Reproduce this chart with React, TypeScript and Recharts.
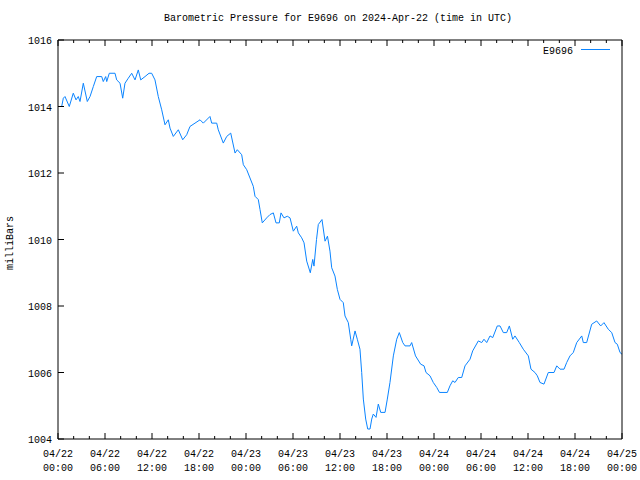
import React from 'react';
import { LineChart, Line, XAxis, YAxis, Legend } from 'recharts';

const title = 'Barometric Pressure for E9696 on 2024-Apr-22 (time in UTC)';
const seriesName = 'E9696';
const yLabel = 'milliBars';

const dateLabels = ['04/22', '04/22', '04/22', '04/22', '04/23', '04/23', '04/23', '04/23', '04/24', '04/24', '04/24', '04/24', '04/25'];
const timeLabels = ['00:00', '06:00', '12:00', '18:00', '00:00', '06:00', '12:00', '18:00', '00:00', '06:00', '12:00', '18:00', '00:00'];
const yTicks = [1004, 1006, 1008, 1010, 1012, 1014, 1016];
const xTicks = [0, 2, 4, 6, 8, 10, 12, 14, 16, 18, 20, 22, 24, 26, 28, 30, 32, 34, 36, 38, 40, 42, 44, 46, 48, 50, 52, 54, 56, 58, 60, 62, 64, 66, 68, 70, 72];

// hours since 04/22 00:00 UTC
const hours = [
  0, 0.47, 0.68, 0.89, 1.44, 1.95, 2.3, 2.59, 2.81, 3.23, 3.74, 4.09, 4.51, 4.94, 5.58, 5.78, 6.09, 6.22, 6.55, 7.28,
  7.49, 7.92, 8.26, 8.55, 8.97, 9.41, 9.83, 10.25, 10.56, 11.11, 11.62, 11.96, 12.38, 12.8, 13.24, 13.66, 14.08, 14.3, 14.72, 15.36,
  15.92, 16.43, 16.85, 17.49, 18.13, 18.55, 19.4, 19.62, 20.26, 20.46, 21.1, 21.54, 22.05, 22.6, 22.89, 23.45, 23.66, 24.09, 24.51, 24.93,
  25.15, 25.57, 25.79, 26.08, 26.64, 27.06, 27.49, 27.83, 28.25, 28.47, 28.85, 29.27, 29.62, 30.04, 30.47, 30.68, 31.11, 31.41, 31.75, 32.21,
  32.52, 32.68, 33.0, 33.23, 33.7, 34.09, 34.4, 34.72, 34.94, 35.36, 35.66, 36.0, 36.42, 36.64, 37.06, 37.37, 37.49, 37.92, 38.21, 38.55,
  38.77, 38.98, 39.28, 39.54, 39.83, 40.05, 40.25, 40.6, 40.89, 41.2, 41.75, 42.04, 42.38, 42.81, 43.24, 43.57, 44.01, 44.3, 44.94, 45.15,
  45.64, 46.3, 46.73, 46.98, 47.49, 47.91, 48.35, 48.7, 49.7, 50.04, 50.39, 50.68, 51.1, 51.54, 51.96, 52.6, 52.94, 53.66, 54.09, 54.38,
  54.73, 55.15, 55.5, 56.08, 56.43, 56.85, 57.28, 57.62, 58.05, 58.34, 58.89, 59.4, 60.04, 60.38, 60.89, 61.19, 61.53, 62.04, 62.59, 63.32,
  63.67, 64.09, 64.6, 64.94, 65.36, 65.78, 66.22, 66.86, 67.06, 67.49, 68.13, 68.77, 69.28, 69.7, 70.25, 70.69, 71.11, 71.4, 71.75, 72.0,
];

const pressure = [
  1014.0, 1014.0, 1014.25, 1014.3, 1014.0, 1014.4, 1014.2, 1014.3, 1014.15, 1014.7, 1014.15, 1014.3, 1014.6, 1014.9, 1014.9, 1014.75, 1014.9, 1014.75, 1015.0, 1015.0,
  1014.8, 1014.7, 1014.25, 1014.7, 1014.85, 1015.0, 1014.8, 1015.1, 1014.8, 1014.9, 1015.0, 1015.0, 1014.8, 1014.3, 1013.9, 1013.45, 1013.6, 1013.35, 1013.1, 1013.3,
  1013.0, 1013.15, 1013.4, 1013.5, 1013.6, 1013.5, 1013.7, 1013.5, 1013.5, 1013.3, 1012.9, 1013.1, 1013.2, 1012.6, 1012.7, 1012.55, 1012.25, 1012.1, 1011.85, 1011.6,
  1011.3, 1011.2, 1010.9, 1010.5, 1010.65, 1010.75, 1010.8, 1010.5, 1010.5, 1010.8, 1010.65, 1010.7, 1010.65, 1010.25, 1010.4, 1010.2, 1010.05, 1009.9, 1009.35, 1009.0,
  1009.4, 1009.2, 1010.0, 1010.45, 1010.6, 1009.95, 1010.1, 1009.65, 1009.15, 1008.9, 1008.5, 1008.2, 1008.1, 1007.7, 1007.5, 1007.0, 1006.8, 1007.25, 1007.0, 1006.7,
  1006.0, 1005.2, 1004.6, 1004.3, 1004.3, 1004.6, 1004.75, 1004.65, 1005.05, 1004.8, 1004.8, 1005.2, 1005.7, 1006.5, 1007.0, 1007.2, 1006.9, 1006.8, 1006.8, 1006.9,
  1006.5, 1006.25, 1006.2, 1006.0, 1005.9, 1005.7, 1005.55, 1005.4, 1005.4, 1005.6, 1005.75, 1005.7, 1005.85, 1005.85, 1006.2, 1006.4, 1006.65, 1006.95, 1006.9, 1007.0,
  1006.9, 1007.1, 1007.05, 1007.4, 1007.4, 1007.2, 1007.2, 1007.4, 1007.0, 1007.1, 1006.9, 1006.7, 1006.5, 1006.1, 1006.0, 1005.9, 1005.7, 1005.65, 1006.0, 1006.0,
  1006.2, 1006.1, 1006.1, 1006.3, 1006.5, 1006.6, 1006.9, 1007.1, 1006.9, 1006.9, 1007.45, 1007.55, 1007.4, 1007.5, 1007.3, 1007.2, 1006.9, 1006.85, 1006.6, 1006.55,
];

const data = hours.map((h, i) => ({ h, p: pressure[i] }));

const FONT = '"Liberation Mono", "DejaVu Sans Mono", monospace';
const LINE_COLOR = '#0a84ff';

const BottomTick = (props: any) => {
  const { x, y, payload } = props;
  const v = payload.value as number;
  const major = v % 6 === 0;
  const idx = v / 6;
  return (
    <g>
      <line x1={x} x2={x} y1={y} y2={y - (major ? 6 : 3)} stroke="#000" strokeWidth={1} />
      {major && (
        <text x={x} y={y + 18} textAnchor="middle" fontFamily={FONT} fontSize={10} fill="#000">
          {dateLabels[idx]}
        </text>
      )}
      {major && (
        <text x={x} y={y + 32} textAnchor="middle" fontFamily={FONT} fontSize={10} fill="#000">
          {timeLabels[idx]}
        </text>
      )}
    </g>
  );
};

const TopTick = (props: any) => {
  const { x, y, payload } = props;
  const v = payload.value as number;
  const major = v % 6 === 0;
  return <line x1={x} x2={x} y1={y} y2={y + (major ? 6 : 3)} stroke="#000" strokeWidth={1} />;
};

const LeftTick = (props: any) => {
  const { x, y, payload } = props;
  return (
    <g>
      <line x1={x} x2={x + 6} y1={y} y2={y} stroke="#000" strokeWidth={1} />
      <text x={x - 6} y={y + 4} textAnchor="end" fontFamily={FONT} fontSize={10} fill="#000">
        {payload.value}
      </text>
    </g>
  );
};

const RightTick = (props: any) => {
  const { x, y } = props;
  return <line x1={x} x2={x - 6} y1={y} y2={y} stroke="#000" strokeWidth={1} />;
};

const YLabel = () => (
  <text
    x={13}
    y={243}
    transform="rotate(-90 13 243)"
    textAnchor="middle"
    fontFamily={FONT}
    fontSize={10}
    fill="#000"
  >
    {yLabel}
  </text>
);

const renderLegend = () => (
  <svg width={120} height={20} style={{ display: 'block' }}>
    <text x={53} y={14} textAnchor="end" fontFamily={FONT} fontSize={10} fill="#000">
      {seriesName}
    </text>
    <line x1={61} x2={90} y1={9.5} y2={9.5} stroke={LINE_COLOR} strokeWidth={1} />
  </svg>
);

export default function App() {
  return (
    <div style={{ position: 'absolute', left: 0, top: 0, width: 640, height: 480, background: '#fff' }}>
      <div
        style={{
          position: 'absolute',
          left: 0,
          top: 12,
          width: 676,
          textAlign: 'center',
          fontFamily: FONT,
          fontSize: 10,
          lineHeight: '14px',
          color: '#000',
          whiteSpace: 'pre',
        }}
      >
        {title}
      </div>
      <LineChart width={640} height={480} data={data} margin={{ top: 30, right: 8, bottom: 0, left: 0 }}>
        <XAxis
          dataKey="h"
          type="number"
          domain={[0, 72]}
          ticks={xTicks}
          interval={0}
          height={41}
          tickSize={0}
          tickMargin={0}
          tick={<BottomTick />}
          axisLine={{ stroke: '#000' }}
          tickLine={false}
        />
        <XAxis
          xAxisId="top"
          orientation="top"
          dataKey="h"
          type="number"
          domain={[0, 72]}
          ticks={xTicks}
          interval={0}
          height={10}
          tickSize={0}
          tickMargin={0}
          tick={<TopTick />}
          axisLine={{ stroke: '#000' }}
          tickLine={false}
        />
        <YAxis
          type="number"
          domain={[1004, 1016]}
          ticks={yTicks}
          interval={0}
          width={58}
          tickSize={0}
          tickMargin={0}
          tick={<LeftTick />}
          axisLine={{ stroke: '#000' }}
          tickLine={false}
          label={<YLabel />}
        />
        <YAxis
          yAxisId="right"
          orientation="right"
          type="number"
          domain={[1004, 1016]}
          ticks={yTicks}
          interval={0}
          width={10}
          tickSize={0}
          tickMargin={0}
          tick={<RightTick />}
          axisLine={{ stroke: '#000' }}
          tickLine={false}
        />
        <Legend
          layout="horizontal"
          verticalAlign="middle"
          align="center"
          content={renderLegend}
          wrapperStyle={{ position: 'absolute', left: 520, top: 40, width: 120, height: 20 }}
        />
        <Line
          type="linear"
          dataKey="p"
          stroke={LINE_COLOR}
          strokeWidth={1}
          dot={false}
          activeDot={false}
          isAnimationActive={false}
        />
      </LineChart>
    </div>
  );
}
